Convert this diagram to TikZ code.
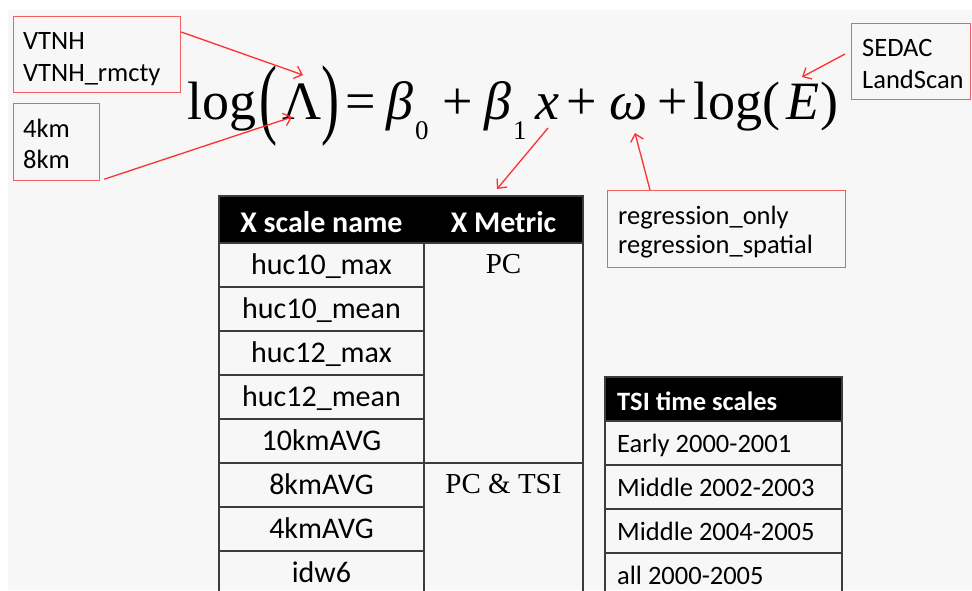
\documentclass[tikz,border=0pt]{standalone}
\usepackage{fontspec}
\setmainfont{Liberation Serif}
\newfontfamily\carl{Carlito}
\usetikzlibrary{arrows.meta,calc}
\definecolor{bggray}{RGB}{247,247,247}
\definecolor{boxred}{RGB}{240,96,96}
\definecolor{arrred}{RGB}{255,48,48}
\definecolor{tblgray}{RGB}{60,60,60}
\tikzset{
  eq/.style={font=\fontsize{54}{60}\selectfont, inner sep=0pt, anchor=base west},
  eqsub/.style={font=\fontsize{27}{30}\selectfont, inner sep=0pt, anchor=base west},
  lbl/.style={font=\carl\fontsize{26.5}{31}\selectfont, inner sep=0pt, anchor=base west},
  cellc/.style={font=\carl\fontsize{30}{34}\selectfont, inner sep=0pt, anchor=base},
  hdr/.style={font=\carl\bfseries\fontsize{30}{34}\selectfont, text=white, inner sep=0pt, anchor=base},
  hdrl/.style={font=\carl\bfseries\fontsize{26.5}{31}\selectfont, text=white, inner sep=0pt, anchor=base west},
  metric/.style={font=\fontsize{29}{32}\selectfont, inner sep=0pt, anchor=base},
  redbox/.style={draw=boxred, line width=1.2pt, inner sep=0pt, anchor=north west},
  redarrow/.style={draw=arrred, line width=1.3pt, -{Straight Barb[length=7pt,width=13pt]}},
  tbl/.style={draw=tblgray, line width=1.4pt},
}
\begin{document}
\begin{tikzpicture}[x=1pt,y=-1pt]
\useasboundingbox (0,0) rectangle (972,590);
\fill[white] (0,0) rectangle (972,590);
\fill[bggray] (8,10) rectangle (972,590);

% ---------- equation ----------
\node[eq] (log1) at (187,119) {log};
\node[eq, anchor=center] (lpar) at (268,106) {\scalebox{1}[1.65]{(}};
\node[eq] (lam) at (282,119) {Λ};
\node[eq, anchor=center] (rpar) at (330,106) {\scalebox{1}[1.65]{)}};
\node[eq] (eqs) at (345,119) {=};
\node[eq] (b0) at (386,119) {\itshape β};
\node[eqsub] (s0) at (415,139) {0};
\node[eq] (p1) at (442,119) {+};
\node[eq] (b1) at (484,119) {\itshape β};
\node[eqsub] (s1) at (513,139) {1};
\node[eq] (xx) at (535,119) {\itshape x};
\node[eq] (p2) at (566,119) {+};
\node[eq] (om) at (609,119) {\itshape ω};
\node[eq] (p3) at (657,119) {+};
\node[eq] (log2) at (693,119) {log(};
\node[eq] (ee) at (786,119) {\itshape E};
\node[eq] (rp2) at (820,119) {)};

% ---------- red boxes ----------
\node[redbox, minimum width=167pt, minimum height=76pt] (vtnh) at (13,16) {};
\node[lbl] (vtnh1) at (23,49) {VTNH};
\node[lbl] (vtnh2) at (23,81) {VTNH\_rmcty};

\node[redbox, minimum width=86pt, minimum height=77pt] (km) at (13,103) {};
\node[lbl] (km1) at (23,137) {4km};
\node[lbl] (km2) at (23,168) {8km};

\node[redbox, minimum width=119pt, minimum height=76pt] (sedac) at (851,23) {};
\node[lbl] (sedac1) at (862,56) {SEDAC};
\node[lbl] (sedac2) at (862,88) {LandScan};

\node[redbox, minimum width=238pt, minimum height=77pt] (regr) at (607,190) {};
\node[lbl] (regr1) at (618,224) {regression\_only};
\node[lbl] (regr2) at (618,253) {regression\_spatial};

% ---------- arrows ----------
\coordinate (lamtop) at (303,75);
\coordinate (lamfoot) at (292,117);
\coordinate (etop) at (802,77);
\coordinate (xbot) at (548,128);
\coordinate (ombot) at (635,133);
\coordinate (hdrtop) at (497,189);
\draw[redarrow] ($(vtnh.north east)+(0,16)$) -- (lamtop);
\draw[redarrow] ($(km.south east)+(4,-2)$) -- (lamfoot);
\draw[redarrow] ($(sedac.north west)+(-6,31)$) -- (etop);
\draw[redarrow] (xbot) -- (hdrtop);
\draw[redarrow] ($(regr.north west)+(43,0)$) -- (ombot);

% ---------- main table ----------
\fill[black] (219,196) rectangle (583,243);
\draw[tbl] (219,592) -- (219,196) -- (583,196) -- (583,592);
\draw[tbl] (219,243) -- (583,243);
\draw[tbl] (424,243) -- (424,592);
\foreach \yy in {287,331,375,419,507,551} \draw[tbl] (219,\yy) -- (424,\yy);
\draw[tbl] (219,463) -- (583,463);
\node[hdr] (h1) at (321.5,232) {X scale name};
\node[hdr] (h2) at (503.5,232) {X Metric};
\node[cellc] (c1) at (321.5,274) {huc10\_max};
\node[cellc] (c2) at (321.5,318) {huc10\_mean};
\node[cellc] (c3) at (321.5,362) {huc12\_max};
\node[cellc] (c4) at (321.5,406) {huc12\_mean};
\node[cellc] (c5) at (321.5,450) {10kmAVG};
\node[cellc] (c6) at (321.5,494) {8kmAVG};
\node[cellc] (c7) at (321.5,538) {4kmAVG};
\node[cellc] (c8) at (321.5,582) {idw6};
\node[metric] (m1) at (503.5,273) {PC};
\node[metric] (m2) at (503.5,493) {PC \& TSI};

% ---------- TSI table ----------
\fill[black] (605,377) rectangle (842,421);
\draw[tbl] (605,592) -- (605,377) -- (842,377) -- (842,592);
\foreach \yy in {421,465,509,553} \draw[tbl] (605,\yy) -- (842,\yy);
\node[hdrl] (t0) at (617,410) {TSI time scales};
\node[lbl] (t1) at (617,452) {Early 2000-2001};
\node[lbl] (t2) at (617,496) {Middle 2002-2003};
\node[lbl] (t3) at (617,540) {Middle 2004-2005};
\node[lbl] (t4) at (617,584) {all 2000-2005};
\end{tikzpicture}
\end{document}
